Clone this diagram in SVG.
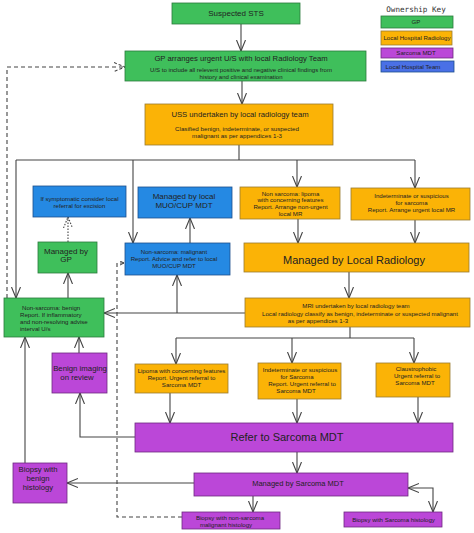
<svg xmlns="http://www.w3.org/2000/svg" width="474" height="533" viewBox="0 0 474 533">
<defs>
<style>
text{font-family:"Liberation Sans",Arial,sans-serif;fill:#222;text-anchor:middle}
.g{fill:#3fbf5b;stroke:#2b7a3c;stroke-width:0.8}
.o{fill:#fbb306;stroke:#9a7a30;stroke-width:0.8}
.p{fill:#bb47d8;stroke:#6e2a80;stroke-width:0.8}
.b{fill:#2589e3;stroke:#1d4f8c;stroke-width:0.8}
.kb{fill:#4a70e6;stroke:#1d4f8c;stroke-width:0.8}
.c{fill:none;stroke:#444;stroke-width:1.1}
.d{stroke-dasharray:4 3}
.dt{stroke-dasharray:1.5 1.5}
.s{font-size:6.1px}
.m{font-size:7.7px}
.l{font-size:11px}
.k{font-family:"DejaVu Sans Mono",monospace;font-size:7.6px;fill:#333}
</style>
<marker id="a" markerUnits="userSpaceOnUse" markerWidth="13" markerHeight="12" refX="11" refY="5" orient="auto-start-reverse"><path d="M0,0.5 L11,5 L0,9.5" fill="none" stroke="#444" stroke-width="1.1"/></marker>
<marker id="ad" markerUnits="userSpaceOnUse" markerWidth="13" markerHeight="12" refX="11" refY="5" orient="auto"><path d="M0,0.5 L11,5 L0,9.5" fill="none" stroke="#444" stroke-width="1.1" stroke-dasharray="3 2"/></marker>
<marker id="at" markerUnits="userSpaceOnUse" markerWidth="13" markerHeight="12" refX="11" refY="5" orient="auto"><path d="M0,0.5 L11,5 L0,9.5" fill="none" stroke="#444" stroke-width="1.1" stroke-dasharray="1.5 1.5"/></marker>
<marker id="as" markerUnits="userSpaceOnUse" markerWidth="6" markerHeight="6" refX="4" refY="2.5" orient="auto"><path d="M0,0.5 L4,2.5 L0,4.5" fill="none" stroke="#444" stroke-width="1"/></marker>
</defs>
<rect width="474" height="533" fill="#fff"/>

<g id="connectors">
<path class="c" d="M241,24 V51" marker-end="url(#a)"/>
<path class="c" d="M242,81 V104" marker-end="url(#a)"/>
<path class="c" d="M239,145 V160 M16,160 H415"/>
<path class="c" d="M16,160 V298" marker-end="url(#a)"/>
<path class="c" d="M133,160 V243" marker-end="url(#a)"/>
<path class="c" d="M297,160 V187" marker-end="url(#a)"/>
<path class="c" d="M415,160 V188" marker-end="url(#a)"/>
<path class="c" d="M190,243 V218" marker-end="url(#a)"/>
<path class="c dt" d="M68,242 V217" marker-end="url(#at)"/>
<path class="c" d="M68,298 V273" marker-end="url(#a)"/>
<path class="c d" d="M7,298 V67 H125" marker-end="url(#ad)"/>
<path class="c" d="M298,219 V243" marker-end="url(#a)"/>
<path class="c" d="M415,220 V243" marker-end="url(#a)"/>
<path class="c" d="M349,272 V298" marker-end="url(#a)"/>
<path class="c" d="M245,313 H104" marker-end="url(#a)"/>
<path class="c" d="M177,313 V275" marker-end="url(#a)"/>
<path class="c" d="M350,327 V338 M176,338 H414"/>
<path class="c" d="M176,338 V364" marker-end="url(#a)"/>
<path class="c" d="M292,338 V363" marker-end="url(#a)"/>
<path class="c" d="M414,338 V363" marker-end="url(#a)"/>
<path class="c" d="M170,393 V423" marker-end="url(#a)"/>
<path class="c" d="M297,399 V423" marker-end="url(#a)"/>
<path class="c" d="M418,397 V423" marker-end="url(#a)"/>
<path class="c" d="M135,437 H80 V393" marker-end="url(#a)"/>
<path class="c" d="M79,353 V337" marker-end="url(#a)"/>
<path class="c" d="M25,463 V337" marker-end="url(#a)"/>
<path class="c" d="M194,483 H67" marker-end="url(#a)"/>
<path class="c" d="M297,452 V473" marker-end="url(#a)"/>
<path class="c" d="M253,496 V512" marker-end="url(#a)"/>
<path class="c" d="M408,488 H433 V512" marker-start="url(#a)" marker-end="url(#a)"/>
<path class="c d" d="M182,517 H117 V263 H124" marker-end="url(#as)"/>
</g>

<g id="key">
<text class="k" x="416" y="12">Ownership Key</text>
<rect class="g" x="381" y="16" width="72" height="12"/>
<text class="s" x="416" y="24">GP</text>
<rect class="o" x="381" y="31" width="71" height="14"/>
<text class="s" x="417" y="40">Local Hospital Radiology</text>
<rect class="p" x="381" y="48" width="72" height="10"/>
<text class="s" x="416" y="55">Sarcoma MDT</text>
<rect class="kb" x="381" y="61" width="73" height="11"/>
<text class="s" x="413" y="69">Local Hospital Team</text>
</g>

<g id="suspected">
<rect class="g" x="172" y="3" width="128" height="21"/>
<text x="236" y="16" style="font-size:8px">Suspected STS</text>
</g>

<g id="gp-us">
<rect class="g" x="125" y="51" width="241" height="30"/>
<text class="m" x="241" y="61">GP arranges urgent U/S with local Radiology Team</text>
<text x="241" y="71.5" style="font-size:6px">U/S to include all relevent positive and negative clinical findings from</text>
<text x="241" y="78.5" style="font-size:6px">history and clinical examination</text>
</g>

<g id="uss">
<rect class="o" x="145" y="104" width="188" height="41"/>
<text class="m" x="240" y="117">USS undertaken by local radiology team</text>
<text x="237" y="131" style="font-size:6.2px">Clasified benign, indeterminate, or suspected</text>
<text x="237" y="138" style="font-size:6.2px">malignant as per appendices 1-3</text>
</g>

<g id="symptomatic">
<rect class="b" x="33" y="186" width="93" height="31"/>
<text class="s" x="79.5" y="201">If symptomatic consider local</text>
<text class="s" x="79.5" y="208">referral for excision</text>
</g>

<g id="muo">
<rect class="b" x="138" y="187" width="94" height="31"/>
<text x="184" y="199" style="font-size:8px">Managed by local</text>
<text x="184" y="207.5" style="font-size:8px">MUO/CUP MDT</text>
</g>

<g id="lipoma-nonurgent">
<rect class="o" x="240" y="187" width="100" height="32"/>
<text class="s" x="290.5" y="195.5">Non sarcoma: lipoma</text>
<text class="s" x="290.5" y="202">with concerning features</text>
<text class="s" x="290.5" y="209">Report. Arrange non-urgent</text>
<text class="s" x="290.5" y="215.5">local MR</text>
</g>

<g id="indeterminate-us">
<rect class="o" x="351" y="188" width="119" height="32"/>
<text class="s" x="411.5" y="198">Indeterminate or suspicious</text>
<text class="s" x="411.5" y="205">for sarcoma</text>
<text class="s" x="411.5" y="212">Report. Arrange urgent local MR</text>
</g>

<g id="managed-gp">
<rect class="g" x="38" y="242" width="59" height="31"/>
<text x="66" y="253.5" style="font-size:8px">Managed by</text>
<text x="66" y="262" style="font-size:8px">GP</text>
</g>

<g id="malignant">
<rect class="b" x="125" y="243" width="105" height="32"/>
<text class="s" x="174" y="253.5">Non-sarcoma: malignant</text>
<text class="s" x="174" y="261">Report. Advice and refer to local</text>
<text class="s" x="174" y="268">MUO/CUP MDT</text>
</g>

<g id="managed-radiology">
<rect class="o" x="244" y="243" width="225" height="29"/>
<text class="l" x="354" y="264">Managed by Local Radiology</text>
</g>

<g id="benign">
<rect class="g" x="4" y="298" width="100" height="39"/>
<text class="s" x="22" y="309.5" style="text-anchor:start">Non-sarcoma: benign</text>
<text class="s" x="20" y="316.5" style="text-anchor:start">Report. If inflammatory</text>
<text class="s" x="20" y="323.5" style="text-anchor:start">and non-resolving advise</text>
<text class="s" x="20" y="330.5" style="text-anchor:start">interval U/s</text>
</g>

<g id="mri">
<rect class="o" x="245" y="298" width="225" height="29"/>
<text class="s" x="356" y="308">MRI undertaken by local radiology team</text>
<text class="s" x="360" y="315.5">Local radiology classify as benign, indeterminate or suspected malignant</text>
<text class="s" x="318" y="322.5">as per appendices 1-3</text>
</g>

<g id="lipoma-urgent">
<rect class="o" x="135" y="364" width="93" height="29"/>
<text class="s" x="181.5" y="372.5">Lipoma with concerning features</text>
<text class="s" x="181.5" y="379.5">Report. Urgent referral to</text>
<text class="s" x="181.5" y="386.5">Sarcoma MDT</text>
</g>

<g id="indeterminate-mri">
<rect class="o" x="258" y="363" width="83" height="36"/>
<text class="s" x="300" y="372">Indeterminate or suspicious</text>
<text class="s" x="297" y="379">for Sarcoma</text>
<text class="s" x="302" y="386">Report. Urgent referral to</text>
<text class="s" x="296" y="393">Sarcoma MDT</text>
</g>

<g id="claustrophobic">
<rect class="o" x="376" y="363" width="74" height="34"/>
<text class="s" x="416" y="371">Claustrophobic</text>
<text class="s" x="417" y="378">Urgent referral to</text>
<text class="s" x="415" y="385">Sarcoma MDT</text>
</g>

<g id="benign-imaging">
<rect class="p" x="52" y="353" width="55" height="40"/>
<text x="80" y="371" style="font-size:7.8px">Benign imaging</text>
<text x="77" y="379.5" style="font-size:7.8px">on review</text>
</g>

<g id="refer">
<rect class="p" x="135" y="423" width="318" height="29"/>
<text class="l" x="287" y="441">Refer to Sarcoma MDT</text>
</g>

<g id="biopsy-benign">
<rect class="p" x="13" y="463" width="54" height="40"/>
<text class="m" x="38" y="472">Biopsy with</text>
<text class="m" x="38" y="481">benign</text>
<text class="m" x="38" y="489.5">histology</text>
</g>

<g id="managed-sarcoma">
<rect class="p" x="194" y="473" width="214" height="23"/>
<text x="298" y="486" style="font-size:7.5px">Managed by Sarcoma MDT</text>
</g>

<g id="biopsy-nonsarcoma">
<rect class="p" x="182" y="512" width="98" height="17"/>
<text class="s" x="230" y="519.5">Biopsy with non-sarcoma</text>
<text class="s" x="226" y="526.5">malignant histology</text>
</g>

<g id="biopsy-sarcoma">
<rect class="p" x="344" y="512" width="98" height="15"/>
<text class="s" x="393.5" y="522">Biopsy with Sarcoma histology</text>
</g>
</svg>
